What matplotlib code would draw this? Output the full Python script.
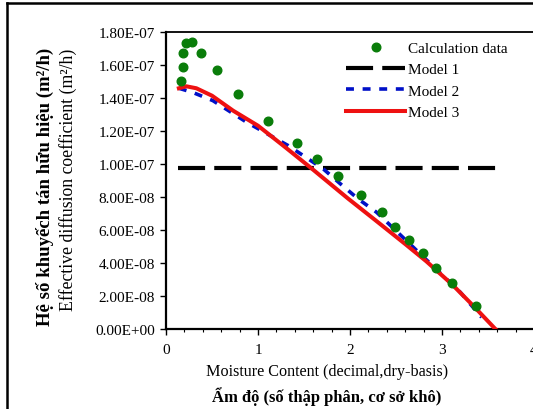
import numpy as np
import matplotlib.pyplot as plt
from matplotlib.lines import Line2D
from matplotlib.ticker import MultipleLocator

plt.rcParams['font.family'] = ['Liberation Serif', 'DejaVu Serif']

# ===== DATA =====
calc_x = [0.163, 0.18, 0.19, 0.217, 0.28, 0.384, 0.55, 0.786, 1.105, 1.42, 1.645,
          1.873, 2.12, 2.345, 2.49, 2.64, 2.79, 2.94, 3.11, 3.37]
calc_y = [1.503, 1.586, 1.671, 1.731, 1.737, 1.675, 1.570, 1.424, 1.261, 1.127, 1.028,
          0.925, 0.812, 0.707, 0.620, 0.539, 0.461, 0.370, 0.277, 0.141]

m1_x = [0.13, 3.59]
m1_y = [0.974, 0.974]

m2_x = [0.14, 0.29, 0.51, 0.877, 1.33, 1.71, 1.92, 2.09, 2.29, 2.67, 3.2, 3.43]
m2_y = [1.459, 1.434, 1.384, 1.253, 1.111, 0.970, 0.868, 0.788, 0.707, 0.505, 0.222, 0.071]

m3_x = [0.14, 0.22, 0.33, 0.5, 0.73, 1.0, 1.3, 1.6, 1.98, 2.27, 2.6, 2.83, 3.11, 3.35, 3.58]
m3_y = [1.459, 1.471, 1.459, 1.414, 1.323, 1.232, 1.10, 0.965, 0.79, 0.662, 0.515, 0.41,
        0.27, 0.135, 0.0]

scale = 1e-7
y_ticks = np.arange(0, 1.81e-7, 2e-8)
y_tick_labels = ['0.00E+00', '2.00E-08', '4.00E-08', '6.00E-08', '8.00E-08',
                 '1.00E-07', '1.20E-07', '1.40E-07', '1.60E-07', '1.80E-07']

# ===== PLOT =====
W, H = 533, 410
fig = plt.figure(figsize=(W / 100, H / 100), dpi=100)
ax = fig.add_axes([166 / W, 80 / H, 368 / W, 297 / H])

ax.plot(calc_x, np.array(calc_y) * scale, 'o', color='#0a7d0a', ms=6.2,
        label='Calculation data', zorder=5)
ax.plot(m1_x, np.array(m1_y) * scale, color='black', lw=3, dashes=(6.5, 2.2),
        label='Model 1')
ax.plot(m2_x, np.array(m2_y) * scale, color='#0010c8', lw=2.6, dashes=(2.2, 2.4),
        label='Model 2')
ax.plot(m3_x, np.array(m3_y) * scale, color='#ee1111', lw=2.9, label='Model 3', zorder=4)

ax.set_xlim(0, 4)
ax.set_ylim(0, 1.8e-7)
ax.set_xticks([0, 1, 2, 3, 4])
ax.xaxis.set_minor_locator(MultipleLocator(0.2))
ax.set_yticks(y_ticks)
ax.set_yticklabels(y_tick_labels)
ax.tick_params(axis='both', which='major', direction='out', length=4, width=1,
               labelsize=11, pad=6)
ax.tick_params(axis='x', which='minor', direction='out', length=2.5, width=0.8)
ax.tick_params(axis='y', pad=4)
for s in ['left', 'bottom']:
    ax.spines[s].set_linewidth(1.6)
ax.spines['top'].set_linewidth(1.3)
ax.spines['right'].set_linewidth(1.0)

leg = ax.legend(loc='upper left', bbox_to_anchor=(166 / 368, 1.015), frameon=True,
                fontsize=11, handlelength=3.9, handletextpad=0.15, labelspacing=0.5,
                borderpad=0.4)
leg.get_frame().set_edgecolor('white')
leg.get_frame().set_facecolor('white')
leg.get_frame().set_alpha(1)

fig.text(45 / W, 1 - 187 / H, 'Hệ số khuyếch tán hữu hiệu (m²/h)', rotation=90,
         ha='center', va='center', fontsize=13.5, fontweight='bold')
fig.text(68 / W, 1 - 180 / H, 'Effective diffusion coefficient (m²/h)', rotation=90,
         ha='center', va='center', fontsize=12.8)
fig.text(327 / W, 1 - 372 / H, 'Moisture Content (decimal,dry-basis)',
         ha='center', va='center', fontsize=11.6)
fig.text(327 / W, 1 - 397 / H, 'Ẩm độ (số thập phân, cơ sở khô)',
         ha='center', va='center', fontsize=12, fontweight='bold')

# outer frame (top and left edges visible)
fig.add_artist(Line2D([7 / W, 1], [1 - 4 / H, 1 - 4 / H], color='black', lw=1.8,
                      transform=fig.transFigure))
fig.add_artist(Line2D([7 / W, 7 / W], [0, 1 - 4 / H], color='black', lw=1.8,
                      transform=fig.transFigure))

fig.savefig('out.png', dpi=100)
